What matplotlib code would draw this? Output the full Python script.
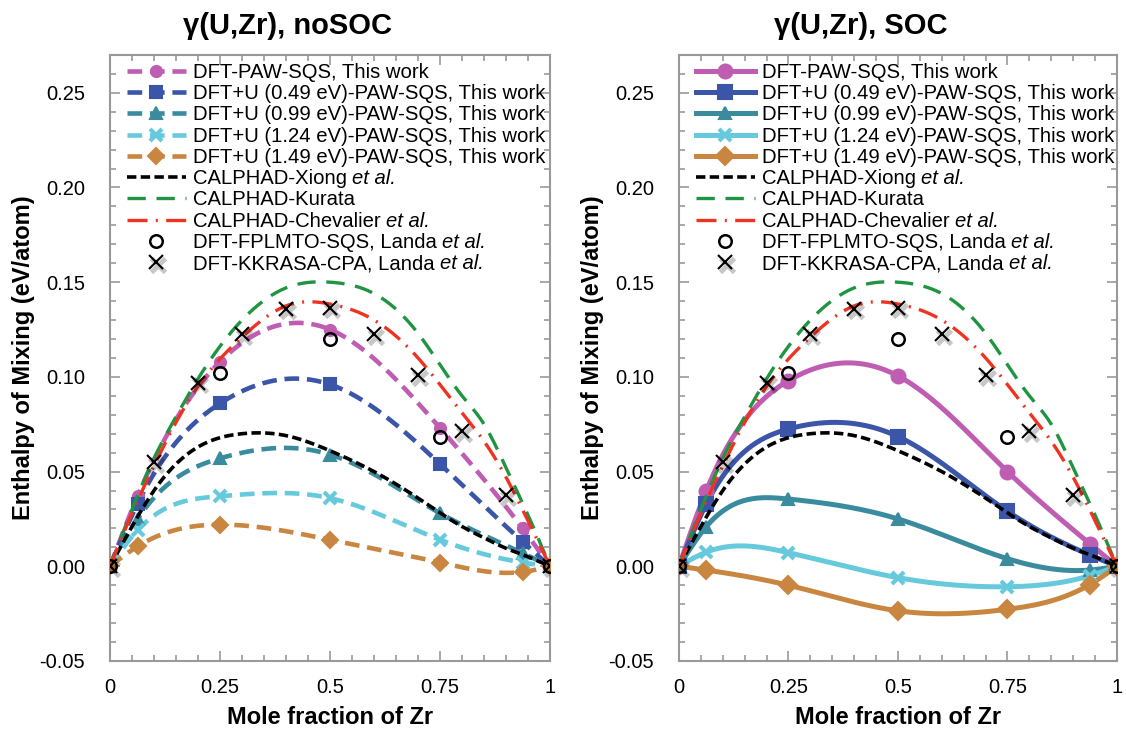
import numpy as np
import matplotlib
matplotlib.use('Agg')
import matplotlib.pyplot as plt
import matplotlib.patheffects as pe
from matplotlib.ticker import MultipleLocator, FixedLocator

plt.rcParams['font.family'] = ['Liberation Sans', 'DejaVu Sans']
plt.rcParams['axes.unicode_minus'] = False

# DFT compositions (mole fraction Zr)
x_dft = [0, 0.0625, 0.25, 0.5, 0.75, 0.9375, 1]

# noSOC enthalpies (eV/atom)
paw_nosoc = [0, 0.037, 0.108, 0.125, 0.073, 0.020, 0]
u049_nosoc = [0, 0.033, 0.086, 0.096, 0.054, 0.013, 0]
u099_nosoc = [0, 0.025, 0.057, 0.059, 0.028, 0.007, 0]
u124_nosoc = [0, 0.019, 0.037, 0.036, 0.014, 0.002, 0]
u149_nosoc = [0, 0.0105, 0.022, 0.014, 0.002, -0.003, 0]

# SOC enthalpies (eV/atom)
paw_soc = [0, 0.040, 0.098, 0.1005, 0.050, 0.012, 0]
u049_soc = [0, 0.033, 0.0725, 0.0685, 0.029, 0.006, 0]
u099_soc = [0, 0.021, 0.0355, 0.025, 0.004, -0.002, 0]
u124_soc = [0, 0.0075, 0.0072, -0.006, -0.0108, -0.005, 0]
u149_soc = [0, -0.002, -0.010, -0.0235, -0.0227, -0.0097, 0]

# CALPHAD curves
x_calphad = [0, 0.05, 0.1, 0.15, 0.2, 0.3, 0.4, 0.5, 0.6, 0.7, 0.8, 0.85, 0.9, 0.95, 1]
xiong = [0, 0.021, 0.040, 0.054, 0.063, 0.070, 0.069, 0.061, 0.050, 0.036, 0.021, 0.015, 0.0095, 0.005, 0]
kurata = [0, 0.030, 0.057, 0.079, 0.099, 0.130, 0.147, 0.150, 0.144, 0.123, 0.090, 0.075, 0.052, 0.027, 0]
chevalier = [0, 0.028, 0.053, 0.076, 0.095, 0.121, 0.1375, 0.1385, 0.130, 0.110, 0.081, 0.066, 0.047, 0.024, 0]

# Landa et al.
x_fplmto = [0, 0.25, 0.5, 0.75, 1]
fplmto = [0, 0.102, 0.120, 0.068, 0]
x_kkr = [0, 0.1, 0.2, 0.3, 0.4, 0.5, 0.6, 0.7, 0.8, 0.9, 1]
kkr = [0, 0.055, 0.097, 0.1226, 0.136, 0.1365, 0.1225, 0.1008, 0.0713, 0.0377, 0]

labels = ['DFT-PAW-SQS, This work',
          'DFT+U (0.49 eV)-PAW-SQS, This work',
          'DFT+U (0.99 eV)-PAW-SQS, This work',
          'DFT+U (1.24 eV)-PAW-SQS, This work',
          'DFT+U (1.49 eV)-PAW-SQS, This work']
colors = ['#bf5db3', '#3b55a8', '#3a8b9e', '#67c9dc', '#c98640']
markers = ['o', 's', '^', 'x', 'D']
LEG_FS = 14.6


def spline(x, y, n=300):
    # natural cubic spline, only for drawing the smooth curve
    x = np.asarray(x, float)
    y = np.asarray(y, float)
    h = np.diff(x)
    m = len(x)
    A = np.zeros((m, m))
    b = np.zeros(m)
    A[0, 0] = A[-1, -1] = 1
    for i in range(1, m - 1):
        A[i, i - 1] = h[i - 1]
        A[i, i] = 2 * (h[i - 1] + h[i])
        A[i, i + 1] = h[i]
        b[i] = 6 * ((y[i + 1] - y[i]) / h[i] - (y[i] - y[i - 1]) / h[i - 1])
    M = np.linalg.solve(A, b)
    xs = np.linspace(x[0], x[-1], n)
    k = np.clip(np.searchsorted(x, xs) - 1, 0, m - 2)
    t0, t1 = x[k], x[k + 1]
    hh = t1 - t0
    ys = (M[k] * (t1 - xs) ** 3 / (6 * hh) + M[k + 1] * (xs - t0) ** 3 / (6 * hh)
          + (y[k] / hh - M[k] * hh / 6) * (t1 - xs) + (y[k + 1] / hh - M[k + 1] * hh / 6) * (xs - t0))
    return xs, ys


fig = plt.figure(figsize=(11.26, 7.32), dpi=100)
ax1 = fig.add_axes([0.0977, 0.097, 0.3908, 0.828])
ax2 = fig.add_axes([0.603, 0.097, 0.389, 0.828])

shadow = [pe.SimpleLineShadow(offset=(1.5, -2), shadow_color='k', alpha=0.22, linewidth=3.5), pe.Normal()]

for ax, series, soc in [(ax1, [paw_nosoc, u049_nosoc, u099_nosoc, u124_nosoc, u149_nosoc], False),
                        (ax2, [paw_soc, u049_soc, u099_soc, u124_soc, u149_soc], True)]:
    handles = []
    for ys, c, mk, lab in zip(series, colors, markers, labels):
        xs_s, ys_s = spline(x_dft, ys)
        if soc:
            ax.plot(xs_s, ys_s, color=c, lw=3.6, zorder=3)
            ms = 10 if mk in 'os' else 9
            mew = 3 if mk == 'x' else 1.5
            ax.plot(x_dft, ys, ls='none', marker=mk, color=c, ms=ms, mew=mew, zorder=4)
            h, = ax.plot([], [], color=c, lw=3.6, marker=mk, ms=ms, mew=mew)
        else:
            ax.plot(xs_s, ys_s, color=c, lw=3.3, dashes=(3.2, 1.7), zorder=3)
            ms = 8
            mew = 3 if mk == 'x' else 1.5
            ax.plot(x_dft, ys, ls='none', marker=mk, color=c, ms=ms, mew=mew, zorder=4)
            h, = ax.plot([], [], color=c, lw=3.3, dashes=(3.2, 1.7), marker=mk, ms=ms, mew=mew)
        h.set_label(lab)
        handles.append(h)

    xs_s, ys_s = spline(x_calphad, xiong)
    h, = ax.plot(xs_s, ys_s, color='k', lw=2.6, dashes=(2.6, 1.2), zorder=5, label='CALPHAD-Xiong')
    handles.append(h)
    xs_s, ys_s = spline(x_calphad, kurata)
    h, = ax.plot(xs_s, ys_s, color='#1f9441', lw=2.4, dashes=(5.5, 3.2), zorder=5, label='CALPHAD-Kurata')
    handles.append(h)
    xs_s, ys_s = spline(x_calphad, chevalier)
    h, = ax.plot(xs_s, ys_s, color='#ef3322', lw=2.4, dashes=(6, 2.5, 0.6, 2.5), zorder=5,
                 label='CALPHAD-Chevalier')
    handles.append(h)

    h, = ax.plot(x_fplmto, fplmto, ls='none', marker='o', mfc='none', mec='k', ms=9, mew=1.8, zorder=6,
                 label='DFT-FPLMTO-SQS, Landa')
    handles.append(h)
    h, = ax.plot(x_kkr, kkr, ls='none', marker='x', color='k', ms=10, mew=1.5, zorder=6,
                 path_effects=shadow, label='DFT-KKRASA-CPA, Landa')
    handles.append(h)

    leg = ax.legend(handles=handles, loc='upper left', bbox_to_anchor=(0.02, 1.0), frameon=False,
                    fontsize=LEG_FS, handlelength=2.9, handletextpad=0.35, labelspacing=0.11,
                    borderaxespad=0.2, borderpad=0.2)
    # italic "et al." appended after the relevant legend entries (drawn after the legend)
    for t in leg.get_texts():
        if t.get_text() in ('CALPHAD-Xiong', 'CALPHAD-Chevalier', 'DFT-FPLMTO-SQS, Landa',
                            'DFT-KKRASA-CPA, Landa'):
            ax.annotate('et al.', xy=(1, 0), xycoords=t, xytext=(4, 0), textcoords='offset points',
                        ha='left', va='bottom', fontsize=LEG_FS, style='italic',
                        annotation_clip=False, zorder=10)

    ax.set_xlim(0, 1)
    ax.set_ylim(-0.05, 0.27)
    ax.xaxis.set_major_locator(FixedLocator([0, 0.25, 0.5, 0.75, 1]))
    ax.set_xticklabels(['0', '0.25', '0.5', '0.75', '1'])
    ax.xaxis.set_minor_locator(MultipleLocator(0.05))
    ax.yaxis.set_major_locator(FixedLocator([-0.05, 0, 0.05, 0.1, 0.15, 0.2, 0.25]))
    ax.set_yticklabels(['-0.05', '0.00', '0.05', '0.10', '0.15', '0.20', '0.25'])
    ax.yaxis.set_minor_locator(MultipleLocator(0.01))
    ax.tick_params(which='both', direction='in', top=True, right=True, color='#999999',
                   labelsize=14.5, width=1.2)
    ax.tick_params(which='major', length=7)
    ax.tick_params(which='minor', length=4)
    ax.tick_params(axis='y', which='major', pad=18)
    ax.tick_params(axis='x', which='major', pad=12)
    for s in ax.spines.values():
        s.set_color('#999999')
        s.set_linewidth(1.5)
    ax.set_xlabel('Mole fraction of Zr', fontsize=17, fontweight='bold', labelpad=7)
    ax.set_ylabel('Enthalpy of Mixing (eV/atom)', fontsize=17, fontweight='bold', labelpad=3)

fig.text(0.255, 0.964, 'γ(U,Zr), noSOC', fontsize=21, fontweight='bold', ha='center', va='center')
fig.text(0.764, 0.964, 'γ(U,Zr), SOC', fontsize=21, fontweight='bold', ha='center', va='center')

fig.savefig('out.png', dpi=100)
